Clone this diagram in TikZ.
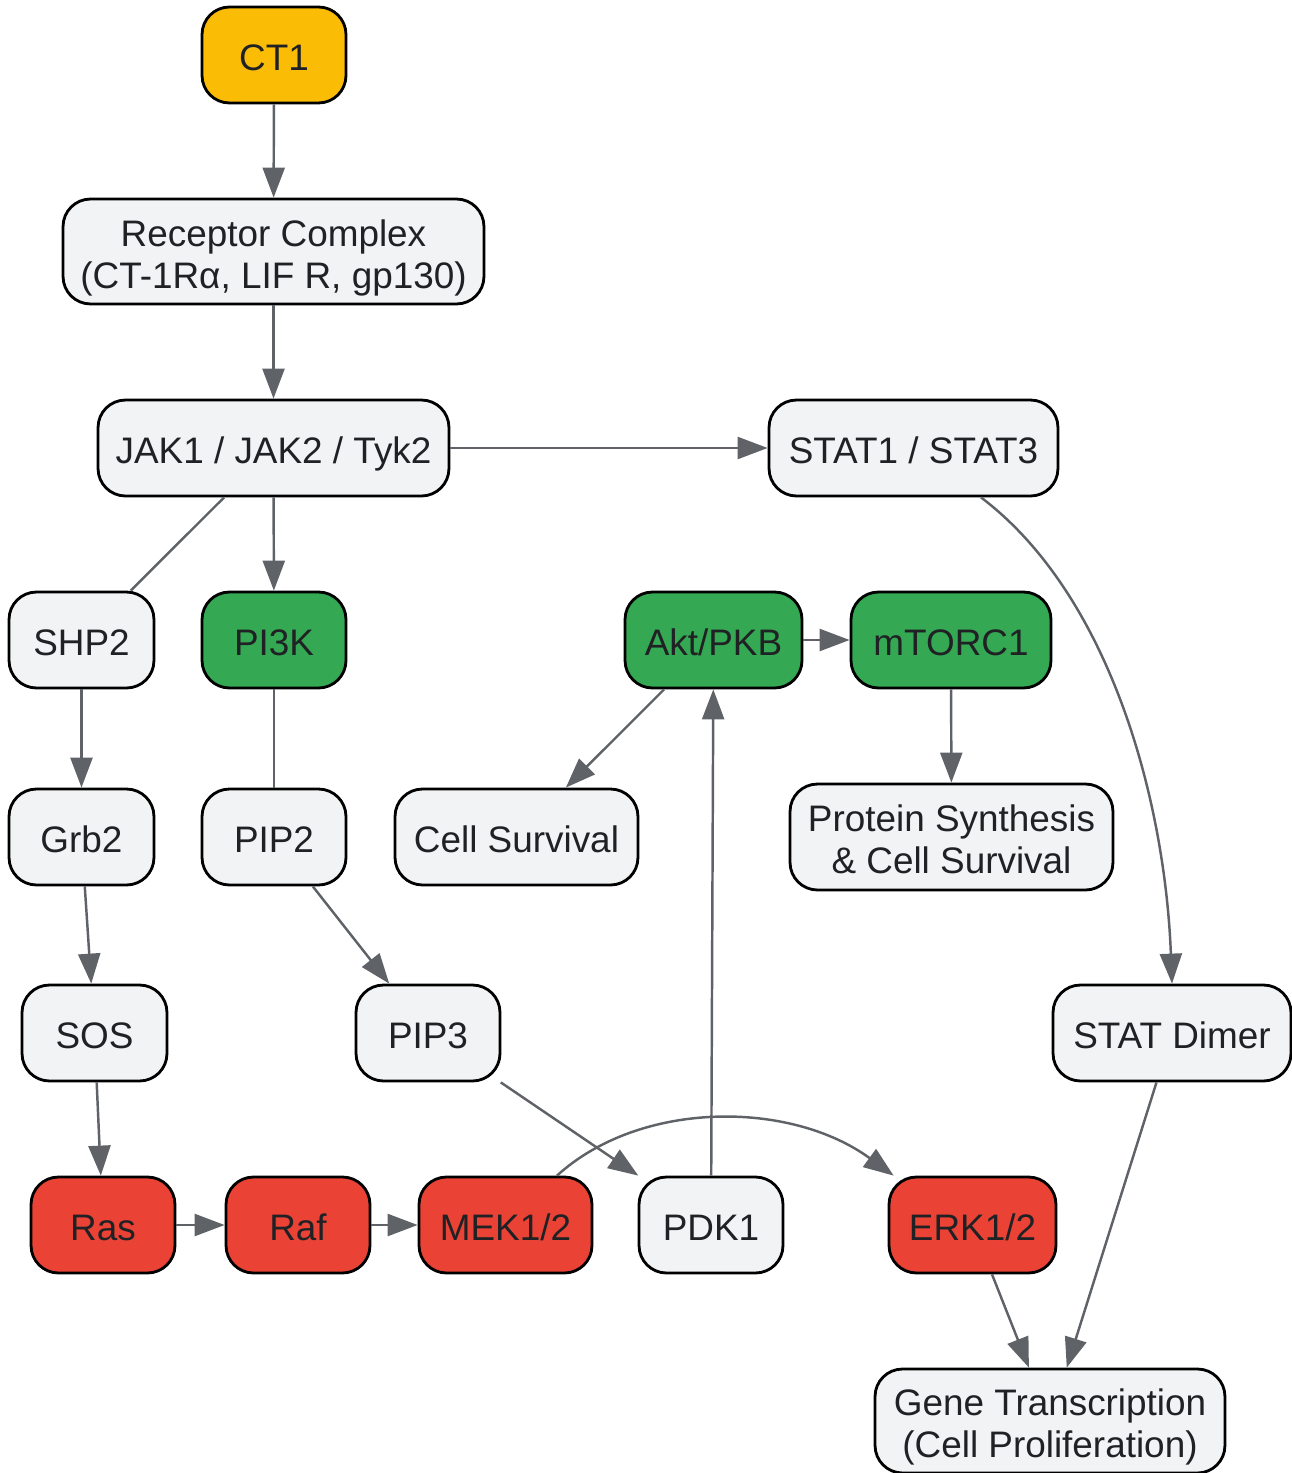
\documentclass[tikz,border=0pt]{standalone}
\usepackage{fontspec}
\setmainfont{Liberation Sans}
\usetikzlibrary{positioning,arrows.meta}

\definecolor{ctyellow}{HTML}{FBBC05}
\definecolor{pgreen}{HTML}{34A853}
\definecolor{mred}{HTML}{EA4335}
\definecolor{boxgray}{HTML}{F1F3F4}
\definecolor{edgegray}{HTML}{5F6368}
\definecolor{txtgray}{HTML}{202124}

\begin{document}
\begin{tikzpicture}[x=0.02cm,y=-0.02cm,
	box/.style={draw=black,line width=1.6pt,rounded corners=0.55cm,fill=boxgray,text=txtgray,align=center,inner sep=0pt,minimum height=1.92cm,text height=17.8pt,text depth=0pt,font=\fontsize{21}{24}\selectfont},
	twoline/.style={text height=41.8pt,text depth=0pt},
	arr/.style={draw=edgegray,line width=1.4pt,-{Triangle[length=0.6cm,width=0.44cm]}},
	link/.style={draw=edgegray,line width=1.4pt}]

\useasboundingbox (0,0) rectangle (1291,1473);

%\draw[color=black!30,step=50](0,0)grid(1291,1473);

% top chain
\node[box,fill=ctyellow,minimum width=2.88cm] (ct1) at (274,55) {CT1};
\node[box,twoline,minimum width=8.42cm,minimum height=2.1cm] (rec) at (273.5,251.5) {Receptor Complex\\(CT-1Rα, LIF R, gp130)};
\node[box,minimum width=7.02cm] (jak) at (273.5,448) {JAK1 / JAK2 / Tyk2};
\node[box,minimum width=5.78cm] (stat) at (913.5,448) {STAT1 / STAT3};

% second row
\node[box,minimum width=2.9cm] (shp2) at (81.5,640) {SHP2};
\node[box,fill=pgreen,minimum width=2.88cm] (pi3k) at (274,640) {PI3K};
\node[box,fill=pgreen,minimum width=3.54cm] (akt) at (713.5,640) {Akt/PKB};
\node[box,fill=pgreen,minimum width=4cm] (mtor) at (951,640) {mTORC1};

% third row
\node[box,minimum width=2.9cm] (grb2) at (81.5,837) {Grb2};
\node[box,minimum width=2.88cm] (pip2) at (274,837) {PIP2};
\node[box,minimum width=4.86cm] (surv) at (516.5,837) {Cell Survival};
\node[box,twoline,minimum width=6.46cm,minimum height=2.12cm] (prot) at (951.5,837) {Protein Synthesis\\\& Cell Survival};

% fourth row
\node[box,minimum width=2.9cm] (sos) at (94.5,1033) {SOS};
\node[box,minimum width=2.88cm] (pip3) at (428,1033) {PIP3};
\node[box,minimum width=4.76cm] (dimer) at (1172,1033) {STAT Dimer};

% MAPK row
\node[box,fill=mred,minimum width=2.88cm] (ras) at (103,1225) {Ras};
\node[box,fill=mred,minimum width=2.88cm] (raf) at (298,1225) {Raf};
\node[box,fill=mred,minimum width=3.46cm] (mek) at (505.5,1225) {MEK1/2};
\node[box,minimum width=2.88cm] (pdk1) at (711,1225) {PDK1};
\node[box,fill=mred,minimum width=3.34cm] (erk) at (972.5,1225) {ERK1/2};

\node[box,twoline,minimum width=7cm,minimum height=2.08cm] (gene) at (1050,1421) {Gene Transcription\\(Cell Proliferation)};

\draw[arr] (ct1) -- (rec);
\draw[arr] (rec) -- (jak);
\draw[arr] (jak) -- (stat);
\draw[link] (jak) -- (shp2);
\draw[arr] (jak) -- (pi3k);
\draw[arr] ([xshift=1.35cm]stat.south) .. controls (1110,595) and (1165,800) .. (dimer.north);

\draw[arr] (shp2) -- (grb2);
\draw[link] (pi3k) -- (pip2);
\draw[arr] (akt) -- (surv);
\draw[arr] (akt) -- (mtor);
\draw[arr] (mtor) -- (prot);

\draw[arr] (grb2) -- (sos);
\draw[arr] (pip2) -- (pip3);
\draw[arr] (sos) -- (ras);
\draw[arr] (pip3) -- (pdk1);
\draw[arr] (pdk1) -- (akt);

\draw[arr] (ras) -- (raf);
\draw[arr] (raf) -- (mek);
\draw[arr] ([xshift=1.03cm]mek.north) .. controls (640,1100) and (790,1100) .. ([xshift=0.12cm]erk.north west);
\draw[arr] (erk) -- (gene);
\draw[arr] (dimer) -- (gene);

\end{tikzpicture}
\end{document}
